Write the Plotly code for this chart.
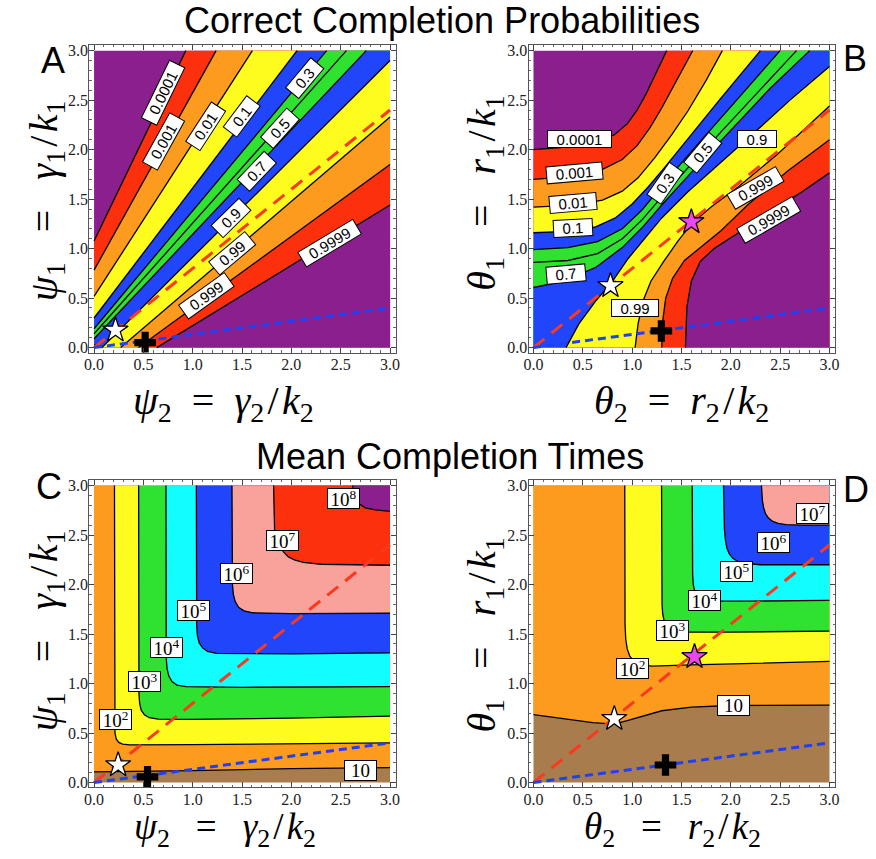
import plotly.graph_objects as go

W, H = 876, 859

# ---------------- data ----------------
PROB_LEVELS = ["0.0001", "0.001", "0.01", "0.1", "0.3", "0.5", "0.7", "0.9", "0.99", "0.999", "0.9999"]
TIME_LEVELS_C = ["10", "10<sup>2</sup>", "10<sup>3</sup>", "10<sup>4</sup>", "10<sup>5</sup>",
                 "10<sup>6</sup>", "10<sup>7</sup>", "10<sup>8</sup>"]
TIME_LEVELS_D = ["10", "10<sup>2</sup>", "10<sup>3</sup>", "10<sup>4</sup>", "10<sup>5</sup>", "10<sup>6</sup>"]

TICK_VALUES = [0.0, 0.5, 1.0, 1.5, 2.0, 2.5, 3.0]

# Panel A contour lines (psi2, psi1), one list per level in PROB_LEVELS order
A_LINE_X = [[0.0, 0.93], [0.0, 1.237], [0.0, 1.605], [0.0, 2.057], [0.0, 2.358], [0.0, 2.558],
            [0.0, 2.759], [0.0, 0.08, 3.0], [0.27, 3.0], [0.45, 3.0], [0.635, 3.0]]
A_LINE_Y = [[1.077, 3.0], [0.782, 3.0], [0.517, 3.0], [0.299, 3.0], [0.19, 3.0], [0.14, 3.0],
            [0.09, 3.0], [0.03, 0.0, 2.9], [0.0, 2.33], [0.0, 1.85], [0.0, 1.44]]
A_LABEL_X = [0.70, 0.70, 1.136, 1.503, 2.138, 1.888, 1.654, 1.387, 1.403, 1.136, 2.389]
A_LABEL_Y = [2.57, 2.08, 2.234, 2.335, 2.72, 2.217, 1.78, 1.31, 0.957, 0.52, 1.058]

# Panel B contour lines (theta2, theta1)
B_LINE_X = [
    [0.0, 0.4, 0.65, 0.82, 0.95, 1.05, 1.14, 1.23, 1.35],
    [0.0, 0.4, 0.7, 0.9, 1.05, 1.18, 1.3, 1.45, 1.614],
    [0.0, 0.4, 0.7, 0.9, 1.06, 1.23, 1.4, 1.565, 1.75, 1.914],
    [0.0, 0.35, 0.63, 0.83, 1.0, 1.16, 1.33, 1.5, 1.9, 2.3],
    [0.0, 0.35, 0.65, 0.9, 1.1, 1.34, 1.6, 2.0, 2.5],
    [0.0, 0.35, 0.65, 0.9, 1.1, 1.35, 1.715, 2.2, 2.666],
    [0.0, 0.3, 0.63, 0.9, 1.1, 1.3, 1.6, 2.0, 2.4, 2.8],
    [0.33, 0.46, 0.63, 0.80, 0.96, 1.13, 1.30, 1.56, 1.9, 2.27, 2.6, 3.0],
    [1.03, 1.06, 1.11, 1.19, 1.32, 1.46, 1.6, 1.8, 2.07, 2.47, 3.0],
    [1.30, 1.31, 1.34, 1.41, 1.53, 1.68, 1.90, 2.17, 2.57, 3.0],
    [1.54, 1.555, 1.60, 1.69, 1.83, 2.0, 2.3, 2.7, 3.0],
]
B_LINE_Y = [
    [2.0, 2.03, 2.08, 2.15, 2.26, 2.40, 2.56, 2.75, 3.0],
    [1.70, 1.73, 1.80, 1.90, 2.04, 2.22, 2.42, 2.70, 3.0],
    [1.42, 1.44, 1.49, 1.58, 1.715, 1.92, 2.15, 2.39, 2.70, 3.0],
    [1.16, 1.175, 1.22, 1.31, 1.45, 1.62, 1.82, 2.03, 2.52, 3.0],
    [0.99, 1.01, 1.07, 1.2, 1.39, 1.68, 1.98, 2.43, 3.0],
    [0.86, 0.88, 0.95, 1.1, 1.29, 1.58, 1.98, 2.5, 3.0],
    [0.607, 0.67, 0.81, 1.01, 1.21, 1.44, 1.77, 2.2, 2.62, 3.0],
    [0.0, 0.24, 0.47, 0.67, 0.90, 1.11, 1.31, 1.57, 1.87, 2.2, 2.5, 2.84],
    [0.0, 0.24, 0.47, 0.67, 0.87, 1.07, 1.25, 1.42, 1.62, 1.95, 2.44],
    [0.0, 0.27, 0.50, 0.70, 0.88, 1.00, 1.18, 1.44, 1.78, 2.10],
    [0.0, 0.41, 0.67, 0.87, 1.0, 1.11, 1.3, 1.56, 1.765],
]
B_LABEL_TEXT = ["0.0001", "0.001", "0.01", "0.1", "0.7", "0.3", "0.5", "0.9", "0.99", "0.999", "0.9999"]
B_LABEL_X = [0.471, 0.411, 0.40, 0.40, 0.334, 1.336, 1.714, 2.265, 1.029, 2.249, 2.382]
B_LABEL_Y = [2.103, 1.764, 1.461, 1.209, 0.746, 1.663, 1.965, 2.103, 0.403, 1.612, 1.293]

# Panel C contour lines (psi2, psi1), TIME_LEVELS_C order
C_LINE_X = [
    [0.0, 0.5, 1.0, 2.0, 3.0],
    [0.207, 0.207, 0.207, 0.212, 0.225, 0.25, 0.29, 0.36, 1.0, 2.0, 3.0],
    [0.452, 0.452, 0.455, 0.462, 0.478, 0.51, 0.56, 0.65, 1.0, 2.0, 3.0],
    [0.729, 0.729, 0.732, 0.74, 0.758, 0.79, 0.84, 0.93, 1.5, 3.0],
    [1.037, 1.037, 1.04, 1.048, 1.066, 1.10, 1.15, 1.24, 2.0, 3.0],
    [1.398, 1.40, 1.403, 1.412, 1.43, 1.465, 1.52, 1.61, 2.0, 3.0],
    [1.82, 1.822, 1.83, 1.85, 1.88, 1.92, 1.97, 2.03, 2.12, 2.3, 3.0],
    [2.62, 2.64, 2.68, 2.75, 2.85, 3.0],
]
C_LINE_Y = [
    [0.107, 0.11, 0.12, 0.14, 0.15],
    [3.0, 1.0, 0.6, 0.5, 0.44, 0.405, 0.388, 0.38, 0.383, 0.393, 0.40],
    [3.0, 1.2, 0.9, 0.8, 0.73, 0.685, 0.655, 0.64, 0.637, 0.65, 0.67],
    [3.0, 1.5, 1.25, 1.15, 1.075, 1.02, 0.985, 0.968, 0.962, 0.968],
    [3.0, 1.8, 1.58, 1.48, 1.41, 1.36, 1.325, 1.305, 1.30, 1.31],
    [3.0, 2.2, 2.0, 1.9, 1.83, 1.77, 1.735, 1.715, 1.707, 1.71],
    [3.0, 2.7, 2.55, 2.45, 2.39, 2.33, 2.28, 2.25, 2.225, 2.205, 2.195],
    [3.0, 2.9, 2.82, 2.775, 2.755, 2.74],
]
C_LABEL_X = [2.696, 0.217, 0.515, 0.732, 1.007, 1.445, 1.913, 2.532]
C_LABEL_Y = [0.124, 0.637, 1.022, 1.361, 1.743, 2.112, 2.447, 2.87]

# Panel D contour lines (theta2, theta1), TIME_LEVELS_D order
D_LINE_X = [
    [0.0, 0.2, 0.4, 0.6, 0.75, 0.85, 0.95, 1.1, 1.3, 1.6, 2.0, 3.0],
    [0.925, 0.925, 0.928, 0.935, 0.95, 0.975, 1.015, 1.08, 1.2, 1.6, 2.2, 3.0],
    [1.298, 1.30, 1.303, 1.31, 1.325, 1.35, 1.39, 1.45, 1.55, 2.0, 3.0],
    [1.609, 1.61, 1.613, 1.62, 1.635, 1.66, 1.70, 1.76, 1.86, 2.2, 3.0],
    [1.926, 1.93, 1.936, 1.945, 1.96, 1.985, 2.02, 2.07, 2.14, 2.3, 3.0],
    [2.311, 2.314, 2.32, 2.332, 2.35, 2.38, 2.42, 2.48, 2.56, 2.7, 3.0],
]
D_LINE_Y = [
    [0.685, 0.66, 0.63, 0.605, 0.595, 0.60, 0.625, 0.67, 0.725, 0.762, 0.778, 0.782],
    [3.0, 2.0, 1.6, 1.45, 1.35, 1.28, 1.225, 1.19, 1.175, 1.188, 1.205, 1.223],
    [3.0, 2.0, 1.8, 1.7, 1.63, 1.58, 1.55, 1.53, 1.52, 1.52, 1.53],
    [3.0, 2.3, 2.1, 2.0, 1.93, 1.88, 1.855, 1.84, 1.833, 1.833, 1.84],
    [3.0, 2.7, 2.55, 2.45, 2.37, 2.31, 2.265, 2.235, 2.213, 2.2, 2.2],
    [3.0, 2.92, 2.85, 2.78, 2.72, 2.675, 2.64, 2.618, 2.605, 2.6, 2.6],
]
D_LABEL_TEXT = ["10", "10<sup>2</sup>", "10<sup>3</sup>", "10<sup>4</sup>", "10<sup>5</sup>",
                "10<sup>6</sup>", "10<sup>7</sup>"]
D_LABEL_X = [2.03, 1.003, 1.408, 1.729, 2.054, 2.435, 2.826]
D_LABEL_Y = [0.775, 1.153, 1.537, 1.841, 2.128, 2.429, 2.716]

# reference lines and markers (per panel A, B, C, D)
RED_DASH_X, RED_DASH_Y = [0.0, 3.0], [0.0, 2.4]
BLUE_DASH_X, BLUE_DASH_Y = [0.0, 3.0], [0.0, 0.4]
WHITE_STAR_X = [0.217, 0.78, 0.244, 0.819]
WHITE_STAR_Y = [0.175, 0.624, 0.178, 0.645]
MAGENTA_STAR_X = [None, 1.6, None, 1.632]
MAGENTA_STAR_Y = [None, 1.27, None, 1.27]
PLUS_X = [0.518, 1.296, 0.542, 1.338]
PLUS_Y = [0.05, 0.168, 0.057, 0.177]

# ---------------- style ----------------
PURPLE, RED, ORANGE, YELLOW = "#8c1f8e", "#fd300e", "#fd9b1e", "#fdfc1e"
BLUE, GREEN, CYAN, PINK, BROWN = "#2045fb", "#30e230", "#12fdfd", "#f9a29c", "#a87c4c"
PROB_COLORS = [PURPLE, RED, ORANGE, YELLOW, BLUE, GREEN, GREEN, BLUE, YELLOW, ORANGE, RED, PURPLE]
TIME_COLORS = [BROWN, ORANGE, YELLOW, GREEN, CYAN, BLUE, PINK, RED, PURPLE]

A_ANGLES = [-64, -61, -57, -53, -50, -48, -46.5, -44.5, -40, -35.5, -31]
B_ANGLES = [0, -5, -5, -3, -5, -55, -50, 0, 0, -30, -30]

LO, HI = 0.0, 3.0
CORNERS = [(LO, LO), (LO, HI), (HI, HI), (HI, LO)]

X_DOM = {"A": [85 / W, 395 / W], "B": [529 / W, 839 / W]}
Y_DOM_TOP = [1 - 353 / H, 1 - 43 / H]
Y_DOM_BOT = [1 - 791 / H, 1 - 481 / H]


def perim(x, y):
    s = HI - LO
    e = 1e-6
    if abs(x - LO) < e:
        return y - LO
    if abs(y - HI) < e:
        return s + (x - LO)
    if abs(x - HI) < e:
        return 2 * s + (HI - y)
    return 3 * s + (HI - x)


def region_polygon(xs, ys):
    """line + square boundary walked clockwise from its end back to its start"""
    s = HI - LO
    tE = perim(xs[-1], ys[-1])
    tS = perim(xs[0], ys[0])
    if tS <= tE:
        tS += 4 * s
    px, py = list(xs), list(ys)
    k = int(tE // s) + 1
    while k * s < tS - 1e-9:
        cx, cy = CORNERS[k % 4]
        px.append(cx)
        py.append(cy)
        k += 1
    px.append(xs[0])
    py.append(ys[0])
    return px, py


fig = go.Figure()


def add_panel(xa, ya, lines_x, lines_y, colors, reverse):
    bx = [c[0] for c in CORNERS] + [CORNERS[0][0]]
    by = [c[1] for c in CORNERS] + [CORNERS[0][1]]
    fig.add_trace(go.Scatter(x=bx, y=by, fill="toself", fillcolor=colors[0], mode="lines",
                             line=dict(width=0), hoverinfo="skip", xaxis=xa, yaxis=ya))
    for i, (lx, ly) in enumerate(zip(lines_x, lines_y)):
        if reverse:
            lx, ly = lx[::-1], ly[::-1]
        px, py = region_polygon(lx, ly)
        fig.add_trace(go.Scatter(x=px, y=py, fill="toself", fillcolor=colors[i + 1], mode="lines",
                                 line=dict(width=0), hoverinfo="skip", xaxis=xa, yaxis=ya))
    for lx, ly in zip(lines_x, lines_y):
        fig.add_trace(go.Scatter(x=lx, y=ly, mode="lines", line=dict(color="black", width=1.3),
                                 hoverinfo="skip", xaxis=xa, yaxis=ya))


def add_marks(idx, xa, ya):
    fig.add_trace(go.Scatter(x=RED_DASH_X, y=RED_DASH_Y, mode="lines",
                             line=dict(color="#fa3a1e", width=3, dash="14px,9px"),
                             hoverinfo="skip", xaxis=xa, yaxis=ya))
    fig.add_trace(go.Scatter(x=BLUE_DASH_X, y=BLUE_DASH_Y, mode="lines",
                             line=dict(color="#2040f4", width=3, dash="8px,5px"),
                             hoverinfo="skip", xaxis=xa, yaxis=ya))
    fig.add_trace(go.Scatter(x=[PLUS_X[idx]], y=[PLUS_Y[idx]], mode="markers",
                             marker=dict(symbol="cross", size=18, color="black", line=dict(width=0)),
                             hoverinfo="skip", xaxis=xa, yaxis=ya))
    fig.add_trace(go.Scatter(x=[WHITE_STAR_X[idx]], y=[WHITE_STAR_Y[idx]], mode="markers",
                             marker=dict(symbol="star", size=19, color="white",
                                         line=dict(color="black", width=1.3)),
                             hoverinfo="skip", xaxis=xa, yaxis=ya))
    if MAGENTA_STAR_X[idx] is not None:
        fig.add_trace(go.Scatter(x=[MAGENTA_STAR_X[idx]], y=[MAGENTA_STAR_Y[idx]], mode="markers",
                                 marker=dict(symbol="star", size=19, color="#ee46ee",
                                             line=dict(color="black", width=1.3)),
                                 hoverinfo="skip", xaxis=xa, yaxis=ya))


add_panel("x", "y", A_LINE_X, A_LINE_Y, PROB_COLORS, False)
add_marks(0, "x", "y")
add_panel("x2", "y2", B_LINE_X, B_LINE_Y, PROB_COLORS, False)
add_marks(1, "x2", "y2")
add_panel("x3", "y3", C_LINE_X, C_LINE_Y, TIME_COLORS, True)
add_marks(2, "x3", "y3")
add_panel("x4", "y4", D_LINE_X, D_LINE_Y, TIME_COLORS, True)
add_marks(3, "x4", "y4")

annotations = []


def prob_label(text, x, y, ang, xr, yr):
    annotations.append(dict(x=x, y=y, xref=xr, yref=yr, text=text, showarrow=False,
                            textangle=ang, font=dict(family="Liberation Sans", size=15, color="black"),
                            bgcolor="white", bordercolor="black", borderwidth=1, borderpad=0,
                            width=round(8.3 * len(text)) + 13, height=16, xanchor="center",
                            yanchor="middle"))


def time_label(text, x, y, xr, yr):
    annotations.append(dict(x=x, y=y, xref=xr, yref=yr, text=text, showarrow=False,
                            font=dict(family="Liberation Serif", size=19, color="black"),
                            bgcolor="white", bordercolor="black", borderwidth=1, borderpad=0,
                            width=31, height=19, xanchor="center", yanchor="middle"))


for t, x, y, a in zip(PROB_LEVELS, A_LABEL_X, A_LABEL_Y, A_ANGLES):
    prob_label(t, x, y, a, "x", "y")
for t, x, y, a in zip(B_LABEL_TEXT, B_LABEL_X, B_LABEL_Y, B_ANGLES):
    prob_label(t, x, y, a, "x2", "y2")
for t, x, y in zip(TIME_LEVELS_C, C_LABEL_X, C_LABEL_Y):
    time_label(t, x, y, "x3", "y3")
for t, x, y in zip(D_LABEL_TEXT, D_LABEL_X, D_LABEL_Y):
    time_label(t, x, y, "x4", "y4")


def page_text(text, px, py, size, family, angle=0, yanchor="middle"):
    annotations.append(dict(x=px / W, y=1 - py / H, xref="paper", yref="paper", text=text,
                            showarrow=False, textangle=angle, xanchor="center", yanchor=yanchor,
                            font=dict(family=family, size=size, color="black")))


SANS = "Liberation Sans, Arial, sans-serif"
SERIF = "Liberation Serif, Times New Roman, serif"
page_text("Correct Completion Probabilities", 442, 19, 36, SANS)
page_text("Mean Completion Times", 450, 458, 36, SANS)
page_text("A", 48, 59, 36, SANS)
page_text("B", 859, 57, 36, SANS)
page_text("C", 44, 488, 36, SANS)
page_text("D", 860, 491, 36, SANS)

SP_X = "&nbsp;&nbsp;"
SP_XB = "&nbsp;&nbsp;&#8201;"
SP_Y = "&nbsp;&nbsp;&nbsp;"
THIN = "&#8202;"


def math_title(a, s, b, c, sp):
    return ("<i>" + a + "</i><sub>" + s + "</sub>" + sp + "=" + sp + "<i>" + b + "</i><sub>" + s
            + "</sub>" + THIN + "/" + THIN + "<i>" + c + "</i><sub>" + s + "</sub>")


TS = 40
TSB = 37
page_text(math_title("ψ", "2", "γ", "k", SP_X), 221, 404, TS, SERIF)
page_text(math_title("θ", "2", "r", "k", SP_X), 684, 404, TS, SERIF)
page_text(math_title("ψ", "2", "γ", "k", SP_XB), 222, 859, TSB, SERIF, yanchor="bottom")
page_text(math_title("θ", "2", "r", "k", SP_XB), 674, 859, TSB, SERIF, yanchor="bottom")
page_text(math_title("ψ", "1", "γ", "k", SP_Y), 41, 200, TS, SERIF, -90)
page_text(math_title("θ", "1", "r", "k", SP_Y), 484, 193, TS, SERIF, -90)
page_text(math_title("ψ", "1", "γ", "k", SP_Y), 41, 633, TS, SERIF, -90)
page_text(math_title("θ", "1", "r", "k", SP_Y), 484, 638, TS, SERIF, -90)


def axis(domain):
    return dict(domain=domain, range=[-0.05, 3.06], tickmode="linear", tick0=TICK_VALUES[0],
                dtick=TICK_VALUES[1] - TICK_VALUES[0], tickformat=".1f",
                ticks="inside", ticklen=5, tickwidth=1, tickcolor="#444",
                showline=True, linecolor="#555", linewidth=1, mirror="allticks",
                showgrid=False, zeroline=False, ticklabelstandoff=-3,
                tickfont=dict(family=SERIF, size=16, color="#222"),
                minor=dict(ticks="inside", ticklen=2.5, tickcolor="#666", tick0=0, dtick=0.1,
                           showgrid=False),
                fixedrange=True)


fig.update_layout(
    width=W, height=H, margin=dict(l=0, r=0, t=0, b=0),
    paper_bgcolor="white", plot_bgcolor="white", showlegend=False,
    xaxis=dict(axis(X_DOM["A"]), anchor="y"),
    yaxis=dict(axis(Y_DOM_TOP), anchor="x"),
    xaxis2=dict(axis(X_DOM["B"]), anchor="y2"),
    yaxis2=dict(axis(Y_DOM_TOP), anchor="x2"),
    xaxis3=dict(axis(X_DOM["A"]), anchor="y3"),
    yaxis3=dict(axis(Y_DOM_BOT), anchor="x3"),
    xaxis4=dict(axis(X_DOM["B"]), anchor="y4"),
    yaxis4=dict(axis(Y_DOM_BOT), anchor="x4"),
    annotations=annotations,
)

fig.write_html("out.html", config={"displayModeBar": False},
               post_script="document.body.style.margin='0';document.body.style.padding='0';"
                           "document.body.style.overflow='hidden';")
